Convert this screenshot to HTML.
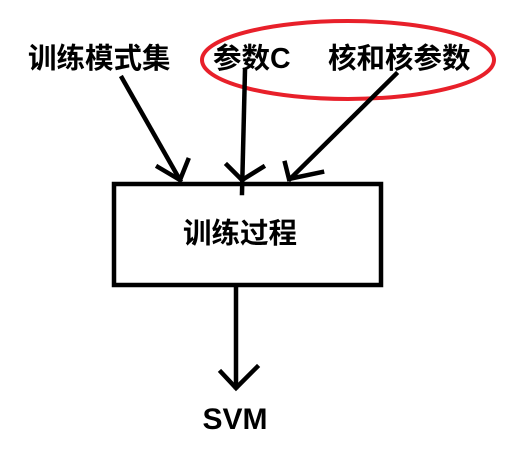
<!DOCTYPE html><html><head><meta charset="utf-8"><style>body{margin:0;background:#fff}</style></head><body>
<svg width="529" height="451" xmlns="http://www.w3.org/2000/svg" style="display:block">
<g font-family="'Liberation Sans','Noto Sans CJK SC',sans-serif" font-weight="bold" fill="#000">
<text x="28" y="68" font-size="28.5">训练模式集</text>
<text x="213" y="68" font-size="28.5">参数C</text>
<text x="328" y="68" font-size="28.5">核和核参数</text>
<text x="240" y="243" font-size="28.5" text-anchor="middle">训练过程</text>
<text x="235" y="429" font-size="30" text-anchor="middle">SVM</text>
</g>
<ellipse cx="348" cy="60" rx="146" ry="39" fill="none" stroke="#e8202a" stroke-width="4"/>
<g stroke="#000" stroke-width="4.5" fill="none" stroke-linecap="square" stroke-linejoin="miter">
<rect x="114" y="184" width="267" height="101"/>
<line x1="122" y1="78" x2="180" y2="180"/>
<polyline points="158,167 180,180 188,160"/>
<line x1="245" y1="70" x2="242" y2="193"/>
<polyline points="227,165 242,180 263,167"/>
<line x1="396" y1="74" x2="290" y2="179"/>
<polyline points="285,163 289,179 322,172"/>
<line x1="236" y1="287" x2="236" y2="387"/>
<polyline points="221,372 236,388 257,367"/>
</g>
</svg>
</body></html>
